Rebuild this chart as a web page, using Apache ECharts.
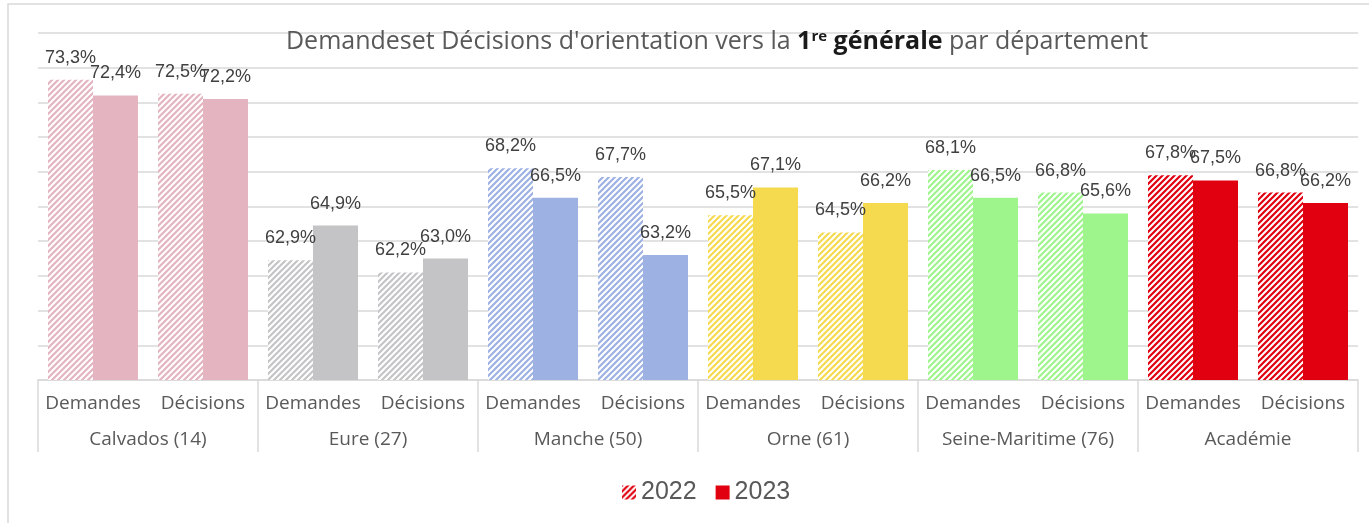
<!DOCTYPE html>
<html>
<head>
<meta charset="utf-8">
<style>
  html, body { margin: 0; padding: 0; background: #fff; }
  #chart { width: 1369px; height: 523px; }
</style>
<script src="https://cdn.jsdelivr.net/npm/echarts@6/dist/echarts.min.js"></script>
</head>
<body>
<div id="chart"></div>
<script>
// données
const departements = ["Calvados (14)", "Eure (27)", "Manche (50)", "Orne (61)", "Seine-Maritime (76)", "Académie"];
const types = ["Demandes", "Décisions"];
const couleurs = ["#e4b4c0", "#c4c4c6", "#9eb1e3", "#f5da50", "#9ef58c", "#e1000f"];
const valeurs2022 = [73.3, 72.5, 62.9, 62.2, 68.2, 67.7, 65.5, 64.5, 68.1, 66.8, 67.8, 66.8];
const valeurs2023 = [72.4, 72.2, 64.9, 63.0, 66.5, 63.2, 67.1, 66.2, 66.5, 65.6, 67.5, 66.2];

// une catégorie par couple département / type
const categories = [];
departements.forEach(() => types.forEach((t) => categories.push(t)));

// motif hachuré (diagonales /)
function hachure(color) {
  const c = document.createElement("canvas");
  c.width = 6;
  c.height = 6;
  const ctx = c.getContext("2d");
  ctx.fillStyle = "#fff";
  ctx.fillRect(0, 0, 6, 6);
  ctx.strokeStyle = color;
  ctx.lineWidth = 2.2;
  ctx.beginPath();
  ctx.moveTo(-3, 3); ctx.lineTo(3, -3);
  ctx.moveTo(0, 6); ctx.lineTo(6, 0);
  ctx.moveTo(3, 9); ctx.lineTo(9, 3);
  ctx.stroke();
  return { image: c, repeat: "repeat" };
}

const myChart = echarts.init(document.getElementById("chart"));

const labelStyle = {
  show: true,
  position: "top",
  distance: 13,
  color: "#404040",
  fontSize: 18,
  fontFamily: "Liberation Sans",
  formatter: (p) => p.value.toFixed(1).replace(".", ",") + "%",
};

const options = {
  animation: false,
  title: {
    text: "Demandeset Décisions d'orientation vers la {b|1}{sup|re} {b|générale} par département",
    left: 712,
    textAlign: "center",
    top: 24,
    textStyle: {
      fontFamily: "Open Sans",
      fontSize: 25,
      fontWeight: "normal",
      color: "#595959",
      rich: {
        b: { fontFamily: "Open Sans", fontSize: 25, fontWeight: "bold", color: "#1a1a1a" },
        sup: { fontFamily: "Open Sans", fontSize: 15, fontWeight: "bold", color: "#1a1a1a", verticalAlign: "top", padding: [0, 0, 10, 0] },
      },
    },
  },
  legend: {
    data: ["2022", "2023"],
    left: 617,
    top: 475,
    itemWidth: 14,
    itemHeight: 14,
    itemGap: 19,
    icon: "rect",
    textStyle: { fontSize: 25, color: "#595959", fontFamily: "Liberation Sans" },
  },
  grid: { left: 38, right: 11, top: 33, bottom: 143 },
  xAxis: [
    {
      type: "category",
      data: categories,
      axisLine: { show: true, lineStyle: { color: "#d9d9d9", width: 1.5 } },
      axisTick: { show: false },
      axisLabel: { margin: 14, fontSize: 19, color: "#595959", fontFamily: "Open Sans", interval: 0 },
    },
    {
      type: "category",
      data: departements,
      position: "bottom",
      axisLine: { show: false },
      axisTick: { show: true, length: 72, lineStyle: { color: "#d9d9d9", width: 1.5 } },
      axisLabel: { margin: 50, fontSize: 19, color: "#595959", fontFamily: "Open Sans", interval: 0 },
    },
  ],
  yAxis: {
    type: "value",
    min: 56,
    max: 76,
    interval: 2,
    axisLabel: { show: false },
    axisLine: { show: false },
    axisTick: { show: false },
    splitLine: { lineStyle: { color: "#d9d9d9", width: 1.5 } },
  },
  series: [
    {
      name: "2022",
      type: "bar",
      barWidth: 45,
      barGap: "0%",
      itemStyle: { color: hachure("#e1000f") },
      data: valeurs2022.map((v, i) => ({
        value: v,
        itemStyle: { color: hachure(couleurs[Math.floor(i / 2)]) },
      })),
      label: labelStyle,
    },
    {
      name: "2023",
      type: "bar",
      barWidth: 45,
      barGap: "0%",
      itemStyle: { color: "#e1000f" },
      data: valeurs2023.map((v, i) => ({
        value: v,
        itemStyle: { color: couleurs[Math.floor(i / 2)] },
      })),
      label: labelStyle,
    },
  ],
  graphic: [
    {
      type: "polyline",
      shape: { points: [[8, 523], [8, 4], [1369, 4]] },
      style: { stroke: "#d9d9d9", lineWidth: 1.5, fill: null },
      silent: true,
    },
  ],
};

myChart.setOption(options);
</script>
</body>
</html>
